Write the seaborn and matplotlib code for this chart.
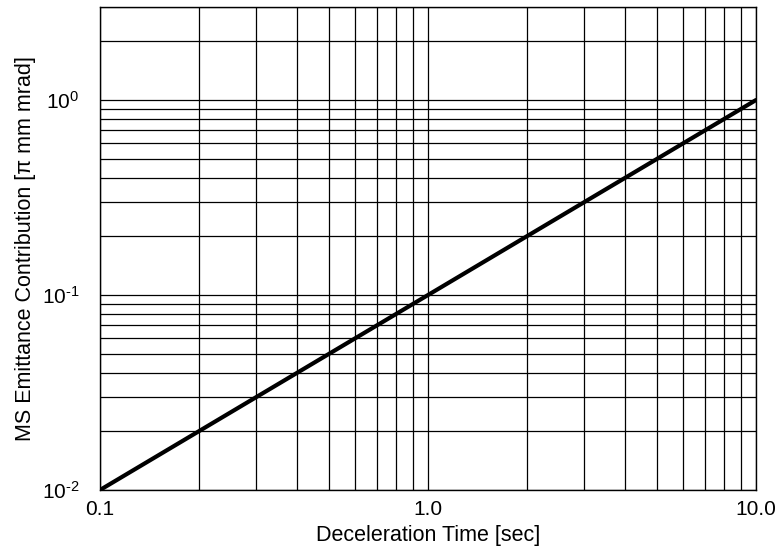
import matplotlib
matplotlib.use("Agg")
import matplotlib.pyplot as plt
import seaborn as sns
import pandas as pd
import numpy as np
from matplotlib.ticker import LogLocator, NullFormatter, FixedLocator, FixedFormatter

# Data
decel_time = [0.1, 1.0, 10.0]
ms_emittance = [0.01, 0.1, 1.0]
x_ticks = [0.1, 1.0, 10.0]
x_tick_labels = ["0.1", "1.0", "10.0"]
y_ticks = [0.01, 0.1, 1.0]
y_tick_labels = [r"$10^{\text{-}2}$", r"$10^{\text{-}1}$", r"$10^{0}$"]

sns.set_style("white")
plt.rcParams['font.family'] = ['Liberation Sans', 'DejaVu Sans']
plt.rcParams['mathtext.fontset'] = 'custom'
plt.rcParams['mathtext.rm'] = 'Liberation Sans'
plt.rcParams['mathtext.it'] = 'Liberation Sans:italic'

df = pd.DataFrame({"t": decel_time, "e": ms_emittance})

fig = plt.figure(figsize=(7.78, 5.51), dpi=100)
ax = fig.add_axes([100/778, 1 - 490/551, 656/778, 483/551])
ax.set_xscale("log")
ax.set_yscale("log")

sns.lineplot(data=df, x="t", y="e", ax=ax, color="black", linewidth=3.0)

ax.set_xlim(0.1, 10)
ax.set_ylim(0.01, 3)

ax.xaxis.set_major_locator(FixedLocator(x_ticks))
ax.xaxis.set_major_formatter(FixedFormatter(x_tick_labels))
ax.xaxis.set_minor_locator(LogLocator(base=10, subs=np.arange(2, 10)))
ax.xaxis.set_minor_formatter(NullFormatter())
ax.yaxis.set_major_locator(FixedLocator(y_ticks))
ax.yaxis.set_major_formatter(FixedFormatter(y_tick_labels))
ax.yaxis.set_minor_locator(LogLocator(base=10, subs=np.arange(2, 10)))
ax.yaxis.set_minor_formatter(NullFormatter())

ax.grid(True, which="both", color="black", linewidth=0.9)
for s in ax.spines.values():
    s.set_color("black")
    s.set_linewidth(1.0)

ax.tick_params(axis="both", which="both", length=0, labelsize=15, colors="black")
ax.tick_params(axis="x", pad=7)
ax.tick_params(axis="y", pad=15)

ax.set_xlabel("Deceleration Time [sec]", fontsize=15.5, color="black")
ax.set_ylabel("MS Emittance Contribution [π mm mrad]", fontsize=15.5, color="black")
ax.xaxis.set_label_coords(0.5, -0.0725)
ax.yaxis.set_label_coords(-0.097, 0.5)

fig.savefig("out.png", dpi=100)
